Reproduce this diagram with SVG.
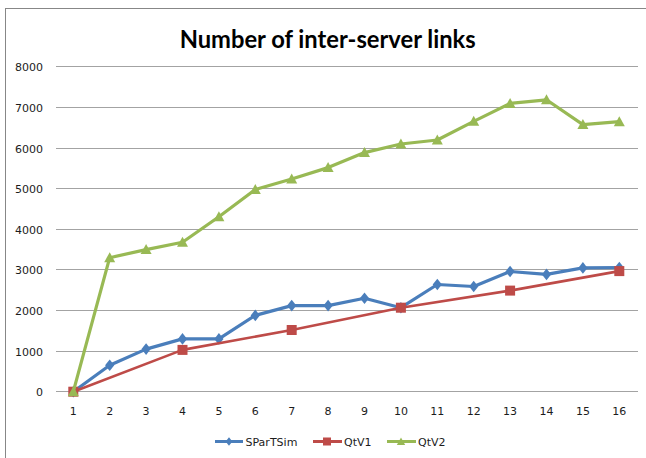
<svg xmlns="http://www.w3.org/2000/svg" width="646" height="458" viewBox="0 0 646 458">
  <style>
    .frame { fill: #ffffff; stroke: #878787; stroke-width: 1; }
    .grid { stroke: #a3a3a3; stroke-width: 1.2; fill: none; }
    .title { font-family: Lato, "Liberation Sans", sans-serif; font-weight: bold; font-size: 24px; fill: #000000; }
    .tick { font-family: "DejaVu Sans", Verdana, sans-serif; font-size: 11px; fill: #1c1c1c; }
    .ylab { text-anchor: end; }
    .xlab { text-anchor: middle; }
    .legend { font-family: "DejaVu Sans", Verdana, sans-serif; font-size: 11px; fill: #1c1c1c; }
    .s1 { fill: none; stroke: #4a7ebb; stroke-width: 3.2; stroke-linejoin: round; marker-start: url(#m-diamond); marker-mid: url(#m-diamond); marker-end: url(#m-diamond); }
    .s2 { fill: none; stroke: #be4b48; stroke-width: 2.6; stroke-linejoin: round; marker-start: url(#m-square); marker-mid: url(#m-square); marker-end: url(#m-square); }
    .s3 { fill: none; stroke: #98b954; stroke-width: 3.2; stroke-linejoin: round; marker-start: url(#m-triangle); marker-mid: url(#m-triangle); marker-end: url(#m-triangle); }
    .leg1 { fill: none; stroke: #4a7ebb; stroke-width: 3; marker-mid: url(#m-diamond-s); }
    .leg2 { fill: none; stroke: #be4b48; stroke-width: 3; marker-mid: url(#m-square-s); }
    .leg3 { fill: none; stroke: #98b954; stroke-width: 3; marker-mid: url(#m-triangle-s); }
  </style>
  <defs>
    <marker id="m-diamond" markerUnits="userSpaceOnUse" viewBox="-6 -7 12 14" refX="0" refY="0" markerWidth="12" markerHeight="14" orient="0" overflow="visible">
      <path d="M0,-5.8 L4.6,0 L0,5.8 L-4.6,0 Z" fill="#4a7ebb"/>
    </marker>
    <marker id="m-square" markerUnits="userSpaceOnUse" viewBox="-6 -6 12 12" refX="0" refY="0" markerWidth="12" markerHeight="12" orient="0" overflow="visible">
      <rect x="-5" y="-5" width="10" height="10" fill="#be4b48"/>
    </marker>
    <marker id="m-triangle" markerUnits="userSpaceOnUse" viewBox="-6 -6 12 12" refX="0" refY="0" markerWidth="12" markerHeight="12" orient="0" overflow="visible">
      <path d="M0,-5.5 L5.5,4.5 L-5.5,4.5 Z" fill="#98b954"/>
    </marker>
    <marker id="m-diamond-s" markerUnits="userSpaceOnUse" viewBox="-5 -5 10 10" refX="0" refY="0" markerWidth="10" markerHeight="10" orient="0" overflow="visible">
      <path d="M0,-4.2 L3.4,0 L0,4.2 L-3.4,0 Z" fill="#4a7ebb"/>
    </marker>
    <marker id="m-square-s" markerUnits="userSpaceOnUse" viewBox="-5 -5 10 10" refX="0" refY="0" markerWidth="10" markerHeight="10" orient="0" overflow="visible">
      <rect x="-4" y="-4" width="8" height="8" fill="#be4b48"/>
    </marker>
    <marker id="m-triangle-s" markerUnits="userSpaceOnUse" viewBox="-5 -5 10 10" refX="0" refY="0" markerWidth="10" markerHeight="10" orient="0" overflow="visible">
      <path d="M0,-4 L4.2,3.5 L-4.2,3.5 Z" fill="#98b954"/>
    </marker>
  </defs>

  <!-- chart area frame (right and bottom edges fall outside the canvas) -->
  <rect class="frame" x="5.5" y="8.5" width="700" height="500"/>

  <!-- title -->
  <text id="title" class="title" x="327.7" y="47.5" text-anchor="middle" textLength="296" lengthAdjust="spacingAndGlyphs">Number of inter-server links</text>

  <!-- value axis: gridlines and labels, 1000 per step -->
  <g id="grid">
    <line class="grid" x1="56" y1="66.5" x2="638" y2="66.5"/>
    <line class="grid" x1="56" y1="107.5" x2="638" y2="107.5"/>
    <line class="grid" x1="56" y1="148.5" x2="638" y2="148.5"/>
    <line class="grid" x1="56" y1="188.5" x2="638" y2="188.5"/>
    <line class="grid" x1="56" y1="229.5" x2="638" y2="229.5"/>
    <line class="grid" x1="56" y1="269.5" x2="638" y2="269.5"/>
    <line class="grid" x1="56" y1="310.5" x2="638" y2="310.5"/>
    <line class="grid" x1="56" y1="351.5" x2="638" y2="351.5"/>
    <line class="grid" x1="56" y1="391.5" x2="638" y2="391.5"/>
  </g>
  <g id="y-labels" class="tick ylab">
    <text x="43" y="70.5">8000</text>
    <text x="43" y="111.5">7000</text>
    <text x="43" y="152.5">6000</text>
    <text x="43" y="192.5">5000</text>
    <text x="43" y="233.5">4000</text>
    <text x="43" y="273.5">3000</text>
    <text x="43" y="314.5">2000</text>
    <text x="43" y="355.5">1000</text>
    <text x="43" y="395.5">0</text>
  </g>

  <!-- category axis labels -->
  <g id="x-labels" class="tick xlab">
    <text x="73.3" y="415">1</text>
    <text x="109.7" y="415">2</text>
    <text x="146.1" y="415">3</text>
    <text x="182.5" y="415">4</text>
    <text x="218.9" y="415">5</text>
    <text x="255.3" y="415">6</text>
    <text x="291.7" y="415">7</text>
    <text x="328.1" y="415">8</text>
    <text x="364.5" y="415">9</text>
    <text x="400.9" y="415">10</text>
    <text x="437.3" y="415">11</text>
    <text x="473.7" y="415">12</text>
    <text x="510.1" y="415">13</text>
    <text x="546.5" y="415">14</text>
    <text x="582.9" y="415">15</text>
    <text x="619.3" y="415">16</text>
  </g>

  <!-- data series -->
  <g id="series">
    <polyline id="sparTSim" class="s1" points="73.3,391.7 109.7,365.3 146.1,349.1 182.5,338.9 218.9,338.9 255.3,315.4 291.7,305.6 328.1,305.6 364.5,298.3 400.9,307.7 437.3,284.5 473.7,286.5 510.1,271.5 546.5,274.4 582.9,267.9 619.3,267.5"/>
    <polyline id="qtv1" class="s2" points="73.3,391.7 182.5,349.9 291.7,330.0 400.9,307.7 510.1,290.6 619.3,271.1"/>
    <polyline id="qtv2" class="s3" points="73.3,391.7 109.7,257.7 146.1,249.6 182.5,242.3 218.9,216.8 255.3,189.5 291.7,179.0 328.1,167.6 364.5,152.6 400.9,144.0 437.3,140.0 473.7,121.3 510.1,103.4 546.5,99.8 582.9,124.6 619.3,121.7"/>
  </g>

  <!-- legend -->
  <g id="legend">
    <g id="legend-sparTSim">
      <polyline class="leg1" points="215,441.5 229,441.5 243,441.5"/>
      <text class="legend" x="245.5" y="445.5">SParTSim</text>
    </g>
    <g id="legend-qtv1">
      <polyline class="leg2" points="313,441.5 327,441.5 342,441.5"/>
      <text class="legend" x="344" y="445.5">QtV1</text>
    </g>
    <g id="legend-qtv2">
      <polyline class="leg3" points="387,441.5 401,441.5 416,441.5"/>
      <text class="legend" x="418" y="445.5">QtV2</text>
    </g>
  </g>
</svg>
